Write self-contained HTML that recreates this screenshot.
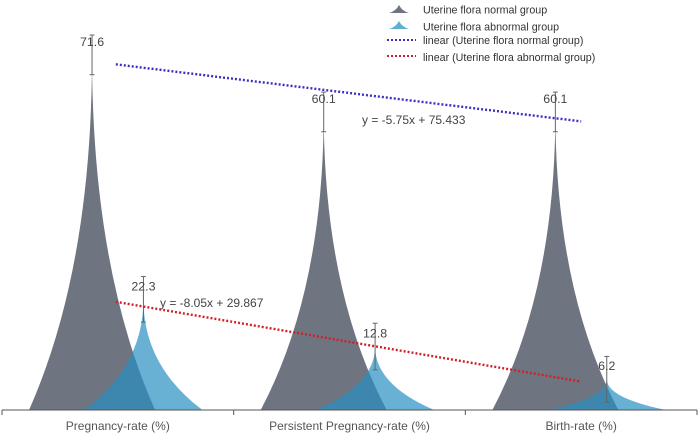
<!DOCTYPE html>
<html lang="en">
<head>
<meta charset="utf-8">
<title>Uterine flora chart</title>
<style>
html,body{margin:0;padding:0;background:#fff;}
svg{display:block;font-family:"Liberation Sans",sans-serif;filter:blur(0.3px);}
</style>
</head>
<body>
<svg id="chart" width="700" height="441" viewBox="0 0 700 441" xmlns="http://www.w3.org/2000/svg"></svg>
<script>
const categories = ['Pregnancy-rate (%)', 'Persistent Pregnancy-rate (%)', 'Birth-rate (%)'];
const normalValues = [71.6, 60.1, 60.1];
const abnormalValues = [22.3, 12.8, 6.2];
const normalErrors = [4.0, 4.0, 4.0];
const abnormalErrors = [4.6, 4.7, 4.6];
const normalLabel = 'Uterine flora normal group';
const abnormalLabel = 'Uterine flora abnormal group';

const svg = document.getElementById('chart');
const NS = 'http://www.w3.org/2000/svg';
const plotLeft = 2, plotRight = 697, baseY = 410, pxPerUnit = 4.96;
const band = (plotRight - plotLeft) / categories.length;
const yScale = v => baseY - v * pxPerUnit;
const xCenter = i => plotLeft + band * (i + 0.5);
const xNormal = i => xCenter(i) - 25.8;
const xAbnormal = i => xCenter(i) + 25.6;
const xTrend = x => xCenter(x - 1);

function mk(tag, attrs, parent) {
  const el = document.createElementNS(NS, tag);
  for (const k in attrs) el.setAttribute(k, attrs[k]);
  (parent || svg).appendChild(el);
  return el;
}
function spike(cx, v, hw) {
  const top = yScale(v), h = baseY - top;
  return 'M' + (cx - hw) + ',' + baseY +
    ' Q' + cx + ',' + (baseY - 0.4 * h) + ' ' + cx + ',' + top +
    ' Q' + cx + ',' + (baseY - 0.4 * h) + ' ' + (cx + hw) + ',' + baseY + ' Z';
}
function fit(values) {
  const n = values.length;
  const mx = (n + 1) / 2;
  const my = values.reduce((a, b) => a + b, 0) / n;
  let sxy = 0, sxx = 0;
  values.forEach((v, i) => { sxy += (i + 1 - mx) * (v - my); sxx += (i + 1 - mx) * (i + 1 - mx); });
  const slope = sxy / sxx;
  return { slope: slope, intercept: my - slope * mx };
}
function eq(f) {
  return 'y = ' + parseFloat(f.slope.toFixed(3)) + 'x + ' + parseFloat(f.intercept.toFixed(3));
}

// Normal series spikes
normalValues.forEach((v, i) => {
  const p = mk('path', { d: spike(xNormal(i), v, 63), fill: '#6e7480' });
  
  
});
// Abnormal series spikes
abnormalValues.forEach((v, i) => {
  const p = mk('path', { d: spike(xAbnormal(i), v, 59), fill: '#288ec2', 'fill-opacity': 0.7 });
  
  
});

// Axis
const axis = mk('line', { x1: plotLeft, x2: plotRight, y1: baseY, y2: baseY, stroke: '#555', 'stroke-width': 1 });


for (let i = 0; i <= categories.length; i++) {
  const x = plotLeft + band * i;
  const t = mk('line', { x1: x, x2: x, y1: baseY, y2: baseY + 5, stroke: '#555', 'stroke-width': 1 });
  
  
}
categories.forEach((c, i) => {
  const t = mk('text', { x: xCenter(i), y: 430, 'text-anchor': 'middle', 'font-size': 12, fill: '#555' });
  t.textContent = c;
  
  
});

// Error bars
function errorBar(cx, v, e) {
  const g = mk('g', { stroke: '#666', 'stroke-width': 1 });
  
  
  const t = yScale(v + e), b = yScale(v - e);
  mk('line', { x1: cx, x2: cx, y1: t, y2: b }, g);
  mk('line', { x1: cx - 2.5, x2: cx + 2.5, y1: t, y2: t }, g);
  mk('line', { x1: cx - 2.5, x2: cx + 2.5, y1: b, y2: b }, g);
}
normalValues.forEach((v, i) => errorBar(xNormal(i), v, normalErrors[i]));
abnormalValues.forEach((v, i) => errorBar(xAbnormal(i), v, abnormalErrors[i]));

// Trendlines
function trend(values, color, name) {
  const f = fit(values);
  const l = mk('line', {
    x1: xTrend(1) - 2, x2: xTrend(values.length),
    y1: yScale(f.slope + f.intercept),
    y2: yScale(f.slope * values.length + f.intercept),
    stroke: color, 'stroke-width': 2.4, 'stroke-dasharray': '2 2'
  });
  
  
  return f;
}
const fitNormal = trend(normalValues, '#3a30c0', 'trendline-normal');
const fitAbnormal = trend(abnormalValues, '#d0202a', 'trendline-abnormal');

// Value labels
function valueLabel(cx, v) {
  const t = mk('text', { x: cx, y: yScale(v) - 9, 'text-anchor': 'middle', 'font-size': 12.4, fill: '#444' });
  t.textContent = String(v);
  
  
}
normalValues.forEach((v, i) => valueLabel(xNormal(i), v));
abnormalValues.forEach((v, i) => valueLabel(xAbnormal(i), v));

// Equations
const eq1 = mk('text', { x: 362, y: 124, 'font-size': 12, fill: '#444' });
eq1.textContent = eq(fitNormal);


const eq2 = mk('text', { x: 160, y: 307, 'font-size': 12, fill: '#444' });
eq2.textContent = eq(fitAbnormal);



// Legend
const legend = mk('g', {});


const icon1 = mk('path', { d: 'M389,13 Q396,11 399,5 Q402,11 409,13 Z', fill: '#6e7480' }, legend);


const icon2 = mk('path', { d: 'M389,29 Q396,27 399,21 Q402,27 409,29 Z', fill: '#5fb0d0' }, legend);


const line1 = mk('line', { x1: 387, x2: 416, y1: 40, y2: 40, stroke: '#3a30c0', 'stroke-width': 2, 'stroke-dasharray': '2 2' }, legend);


const line2 = mk('line', { x1: 387, x2: 416, y1: 56, y2: 56, stroke: '#d0202a', 'stroke-width': 2, 'stroke-dasharray': '2 2' }, legend);


const legendTexts = [normalLabel, abnormalLabel, 'linear (' + normalLabel + ')', 'linear (' + abnormalLabel + ')'];
const legendY = [13.5, 30.5, 44, 61];
legendTexts.forEach((s, i) => {
  const t = mk('text', { x: 423, y: legendY[i], 'font-size': 10.7, fill: '#333' }, legend);
  t.textContent = s;
  
  
});
</script>
</body>
</html>
